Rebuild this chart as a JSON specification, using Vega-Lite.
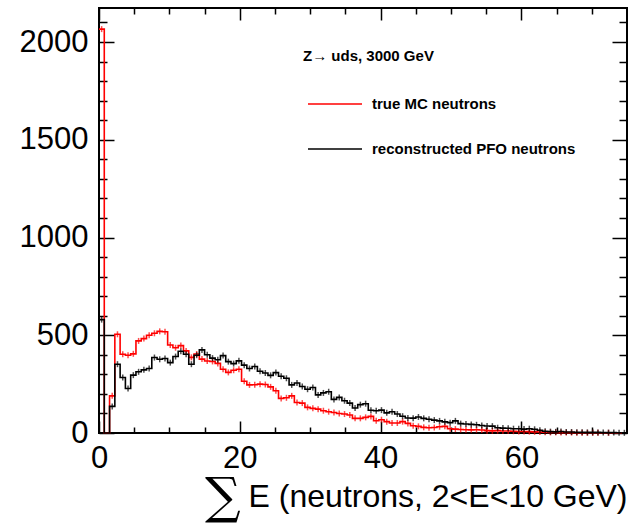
{
 "$schema": "https://vega.github.io/schema/vega-lite/v6.json",
 "autosize": {"type": "none"},
 "width": 528, "height": 425,
 "padding": {"left": 99, "top": 8, "right": 1, "bottom": 95},
 "background": "white",
 "config": {
  "font": "Liberation Sans",
  "view": {"stroke": "black", "strokeWidth": 2},
  "axis": {"domain": false, "grid": false, "labelFont": "Liberation Sans", "labelFontSize": 31, "labelColor": "black", "tickColor": "black", "tickWidth": 1.5, "titleColor": "black", "titleFont": "Liberation Sans"}
 },
 "title": {"text": "∑", "orient": "bottom", "anchor": "start", "frame": "group", "dx": 106, "offset": -39, "fontSize": 50, "fontWeight": "normal", "font": "DejaVu Serif", "color": "black"},
 "datasets": {
  "mc": [
   {"E":0,"n":2066},{"E":0.75,"n":0},{"E":1.5,"n":190},{"E":2.25,"n":505},{"E":3,"n":403},{"E":3.75,"n":398},{"E":4.5,"n":405},{"E":5.25,"n":471},{"E":6,"n":483},{"E":6.75,"n":500},
   {"E":7.5,"n":510},{"E":8.25,"n":520},{"E":9,"n":518},{"E":9.75,"n":450},{"E":10.5,"n":436},{"E":11.25,"n":447},{"E":12,"n":420},{"E":12.75,"n":387},{"E":13.5,"n":404},{"E":14.25,"n":378},
   {"E":15,"n":368},{"E":15.75,"n":366},{"E":16.5,"n":356},{"E":17.25,"n":326},{"E":18,"n":310},{"E":18.75,"n":321},{"E":19.5,"n":326},{"E":20.25,"n":265},{"E":21,"n":246},{"E":21.75,"n":247},
   {"E":22.5,"n":250},{"E":23.25,"n":248},{"E":24,"n":236},{"E":24.75,"n":216},{"E":25.5,"n":177},{"E":26.25,"n":180},{"E":27,"n":190},{"E":27.75,"n":156},{"E":28.5,"n":153},{"E":29.25,"n":131},
   {"E":30,"n":126},{"E":30.75,"n":122},{"E":31.5,"n":114},{"E":32.25,"n":109},{"E":33,"n":105},{"E":33.75,"n":100},{"E":34.5,"n":97},{"E":35.25,"n":92},{"E":36,"n":75},{"E":36.75,"n":75},
   {"E":37.5,"n":80},{"E":38.25,"n":85},{"E":39,"n":63},{"E":39.75,"n":68},{"E":40.5,"n":58},{"E":41.25,"n":51},{"E":42,"n":51},{"E":42.75,"n":58},{"E":43.5,"n":49},{"E":44.25,"n":37},
   {"E":45,"n":34},{"E":45.75,"n":29},{"E":46.5,"n":27},{"E":47.25,"n":28},{"E":48,"n":32},{"E":48.75,"n":34},{"E":49.5,"n":22},{"E":50.25,"n":20},{"E":51,"n":18},{"E":51.75,"n":17},
   {"E":52.5,"n":16},{"E":53.25,"n":17},{"E":54,"n":15},{"E":54.75,"n":12},{"E":55.5,"n":11},{"E":56.25,"n":12},{"E":57,"n":10},{"E":57.75,"n":10},{"E":58.5,"n":9},{"E":59.25,"n":8},
   {"E":60,"n":8},{"E":60.75,"n":7},{"E":61.5,"n":6},{"E":62.25,"n":5},{"E":63,"n":4},{"E":63.75,"n":3},{"E":64.5,"n":3},{"E":65.25,"n":2},{"E":66,"n":2},{"E":66.75,"n":2},
   {"E":67.5,"n":1},{"E":68.25,"n":1},{"E":69,"n":1},{"E":69.75,"n":1},{"E":70.5,"n":1},{"E":71.25,"n":0},{"E":72,"n":1},{"E":72.75,"n":0},{"E":73.5,"n":0},{"E":74.25,"n":0}
  ],
  "pfo": [
   {"E":0,"n":580},{"E":0.75,"n":0},{"E":1.5,"n":136},{"E":2.25,"n":352},{"E":3,"n":284},{"E":3.75,"n":228},{"E":4.5,"n":296},{"E":5.25,"n":313},{"E":6,"n":323},{"E":6.75,"n":330},
   {"E":7.5,"n":386},{"E":8.25,"n":377},{"E":9,"n":381},{"E":9.75,"n":360},{"E":10.5,"n":391},{"E":11.25,"n":418},{"E":12,"n":403},{"E":12.75,"n":352},{"E":13.5,"n":398},{"E":14.25,"n":425},
   {"E":15,"n":400},{"E":15.75,"n":383},{"E":16.5,"n":375},{"E":17.25,"n":396},{"E":18,"n":365},{"E":18.75,"n":355},{"E":19.5,"n":369},{"E":20.25,"n":347},{"E":21,"n":330},{"E":21.75,"n":340},
   {"E":22.5,"n":316},{"E":23.25,"n":307},{"E":24,"n":295},{"E":24.75,"n":309},{"E":25.5,"n":290},{"E":26.25,"n":280},{"E":27,"n":246},{"E":27.75,"n":256},{"E":28.5,"n":238},{"E":29.25,"n":224},
   {"E":30,"n":233},{"E":30.75,"n":195},{"E":31.5,"n":205},{"E":32.25,"n":211},{"E":33,"n":172},{"E":33.75,"n":182},{"E":34.5,"n":165},{"E":35.25,"n":153},{"E":36,"n":128},{"E":36.75,"n":145},
   {"E":37.5,"n":150},{"E":38.25,"n":116},{"E":39,"n":114},{"E":39.75,"n":117},{"E":40.5,"n":103},{"E":41.25,"n":109},{"E":42,"n":97},{"E":42.75,"n":86},{"E":43.5,"n":77},{"E":44.25,"n":76},
   {"E":45,"n":82},{"E":45.75,"n":75},{"E":46.5,"n":70},{"E":47.25,"n":66},{"E":48,"n":62},{"E":48.75,"n":57},{"E":49.5,"n":53},{"E":50.25,"n":62},{"E":51,"n":48},{"E":51.75,"n":46},
   {"E":52.5,"n":44},{"E":53.25,"n":42},{"E":54,"n":38},{"E":54.75,"n":36},{"E":55.5,"n":35},{"E":56.25,"n":27},{"E":57,"n":25},{"E":57.75,"n":24},{"E":58.5,"n":22},{"E":59.25,"n":22},
   {"E":60,"n":20},{"E":60.75,"n":22},{"E":61.5,"n":19},{"E":62.25,"n":14},{"E":63,"n":9},{"E":63.75,"n":7},{"E":64.5,"n":6},{"E":65.25,"n":8},{"E":66,"n":5},{"E":66.75,"n":5},
   {"E":67.5,"n":4},{"E":68.25,"n":4},{"E":69,"n":3},{"E":69.75,"n":3},{"E":70.5,"n":3},{"E":71.25,"n":2},{"E":72,"n":2},{"E":72.75,"n":2},{"E":73.5,"n":1},{"E":74.25,"n":1}
  ]
 },
 "layer": [
  {
   "data": {"name": "mc"},
   "mark": {"type": "line", "interpolate": "step-after", "strokeWidth": 1.6},
   "encoding": {
    "x": {"field": "E", "type": "quantitative",
     "scale": {"domain": [0, 75], "nice": false, "zero": false},
     "axis": {"orient": "bottom", "values": [0,5,10,15,20,25,30,35,40,45,50,55,60,65,70,75], "format": "d",
      "labelExpr": "datum.value % 20 === 0 ? datum.label : ''",
      "tickSize": {"condition": {"test": "datum.value % 20 === 0", "value": -12}, "value": -6},
      "labelPadding": 22, "labelFlush": false, "labelOverlap": false, "labelBaseline": "top",
      "title": "E (neutrons, 2<E<10 GeV)", "titleAnchor": "end", "titleFontSize": 32, "titleFontWeight": "normal", "titlePadding": 2}},
    "y": {"field": "n", "type": "quantitative",
     "scale": {"domain": [0, 2174], "nice": false},
     "axis": {"orient": "left", "values": [0,100,200,300,400,500,600,700,800,900,1000,1100,1200,1300,1400,1500,1600,1700,1800,1900,2000,2100], "format": "d",
      "labelExpr": "datum.value % 500 === 0 ? datum.label : ''",
      "tickSize": {"condition": {"test": "datum.value % 500 === 0", "value": -15}, "value": -8},
      "labelPadding": 26, "labelOverlap": false, "labelFlush": false, "title": null}},
    "color": {"datum": "true MC neutrons",
     "scale": {"domain": ["true MC neutrons", "reconstructed PFO neutrons"], "range": ["#ff0000", "#000000"]},
     "legend": {"orient": "none", "legendX": 204, "legendY": 41, "title": "Z→ uds, 3000 GeV",
      "titleFontSize": 15, "titleFontWeight": "bold", "titleColor": "black", "titlePadding": 12,
      "labelFontSize": 15, "labelFontWeight": "bold", "labelColor": "black", "labelOffset": 9, "labelLimit": 400,
      "symbolType": "stroke", "symbolSize": 2916, "symbolStrokeWidth": 1.5, "rowPadding": 9, "padding": 0, "symbolOffset": 4}}
   }
  },
  {
   "data": {"name": "mc"},
   "transform": [{"filter": "datum.n > 0"}],
   "mark": {"type": "tick", "orient": "vertical", "size": 6, "thickness": 1.5, "color": "#ff0000", "xOffset": 2.64},
   "encoding": {
    "x": {"field": "E", "type": "quantitative", "axis": null},
    "y": {"field": "n", "type": "quantitative", "axis": null}
   }
  },
  {
   "data": {"name": "pfo"},
   "mark": {"type": "line", "interpolate": "step-after", "strokeWidth": 1.6},
   "encoding": {
    "x": {"field": "E", "type": "quantitative",
     "axis": {"orient": "top", "values": [0,5,10,15,20,25,30,35,40,45,50,55,60,65,70,75], "labels": false,
      "tickSize": {"condition": {"test": "datum.value % 20 === 0", "value": -12}, "value": -6}, "title": null}},
    "y": {"field": "n", "type": "quantitative",
     "axis": {"orient": "right", "values": [0,100,200,300,400,500,600,700,800,900,1000,1100,1200,1300,1400,1500,1600,1700,1800,1900,2000,2100], "labels": false,
      "tickSize": {"condition": {"test": "datum.value % 500 === 0", "value": -15}, "value": -8}, "title": null}},
    "color": {"datum": "reconstructed PFO neutrons"}
   }
  },
  {
   "data": {"name": "pfo"},
   "transform": [{"filter": "datum.n > 0"}],
   "mark": {"type": "tick", "orient": "vertical", "size": 6, "thickness": 1.5, "color": "#000000", "xOffset": 2.64},
   "encoding": {
    "x": {"field": "E", "type": "quantitative", "axis": null},
    "y": {"field": "n", "type": "quantitative", "axis": null}
   }
  }
 ],
 "resolve": {"axis": {"x": "independent", "y": "independent"}}
}
